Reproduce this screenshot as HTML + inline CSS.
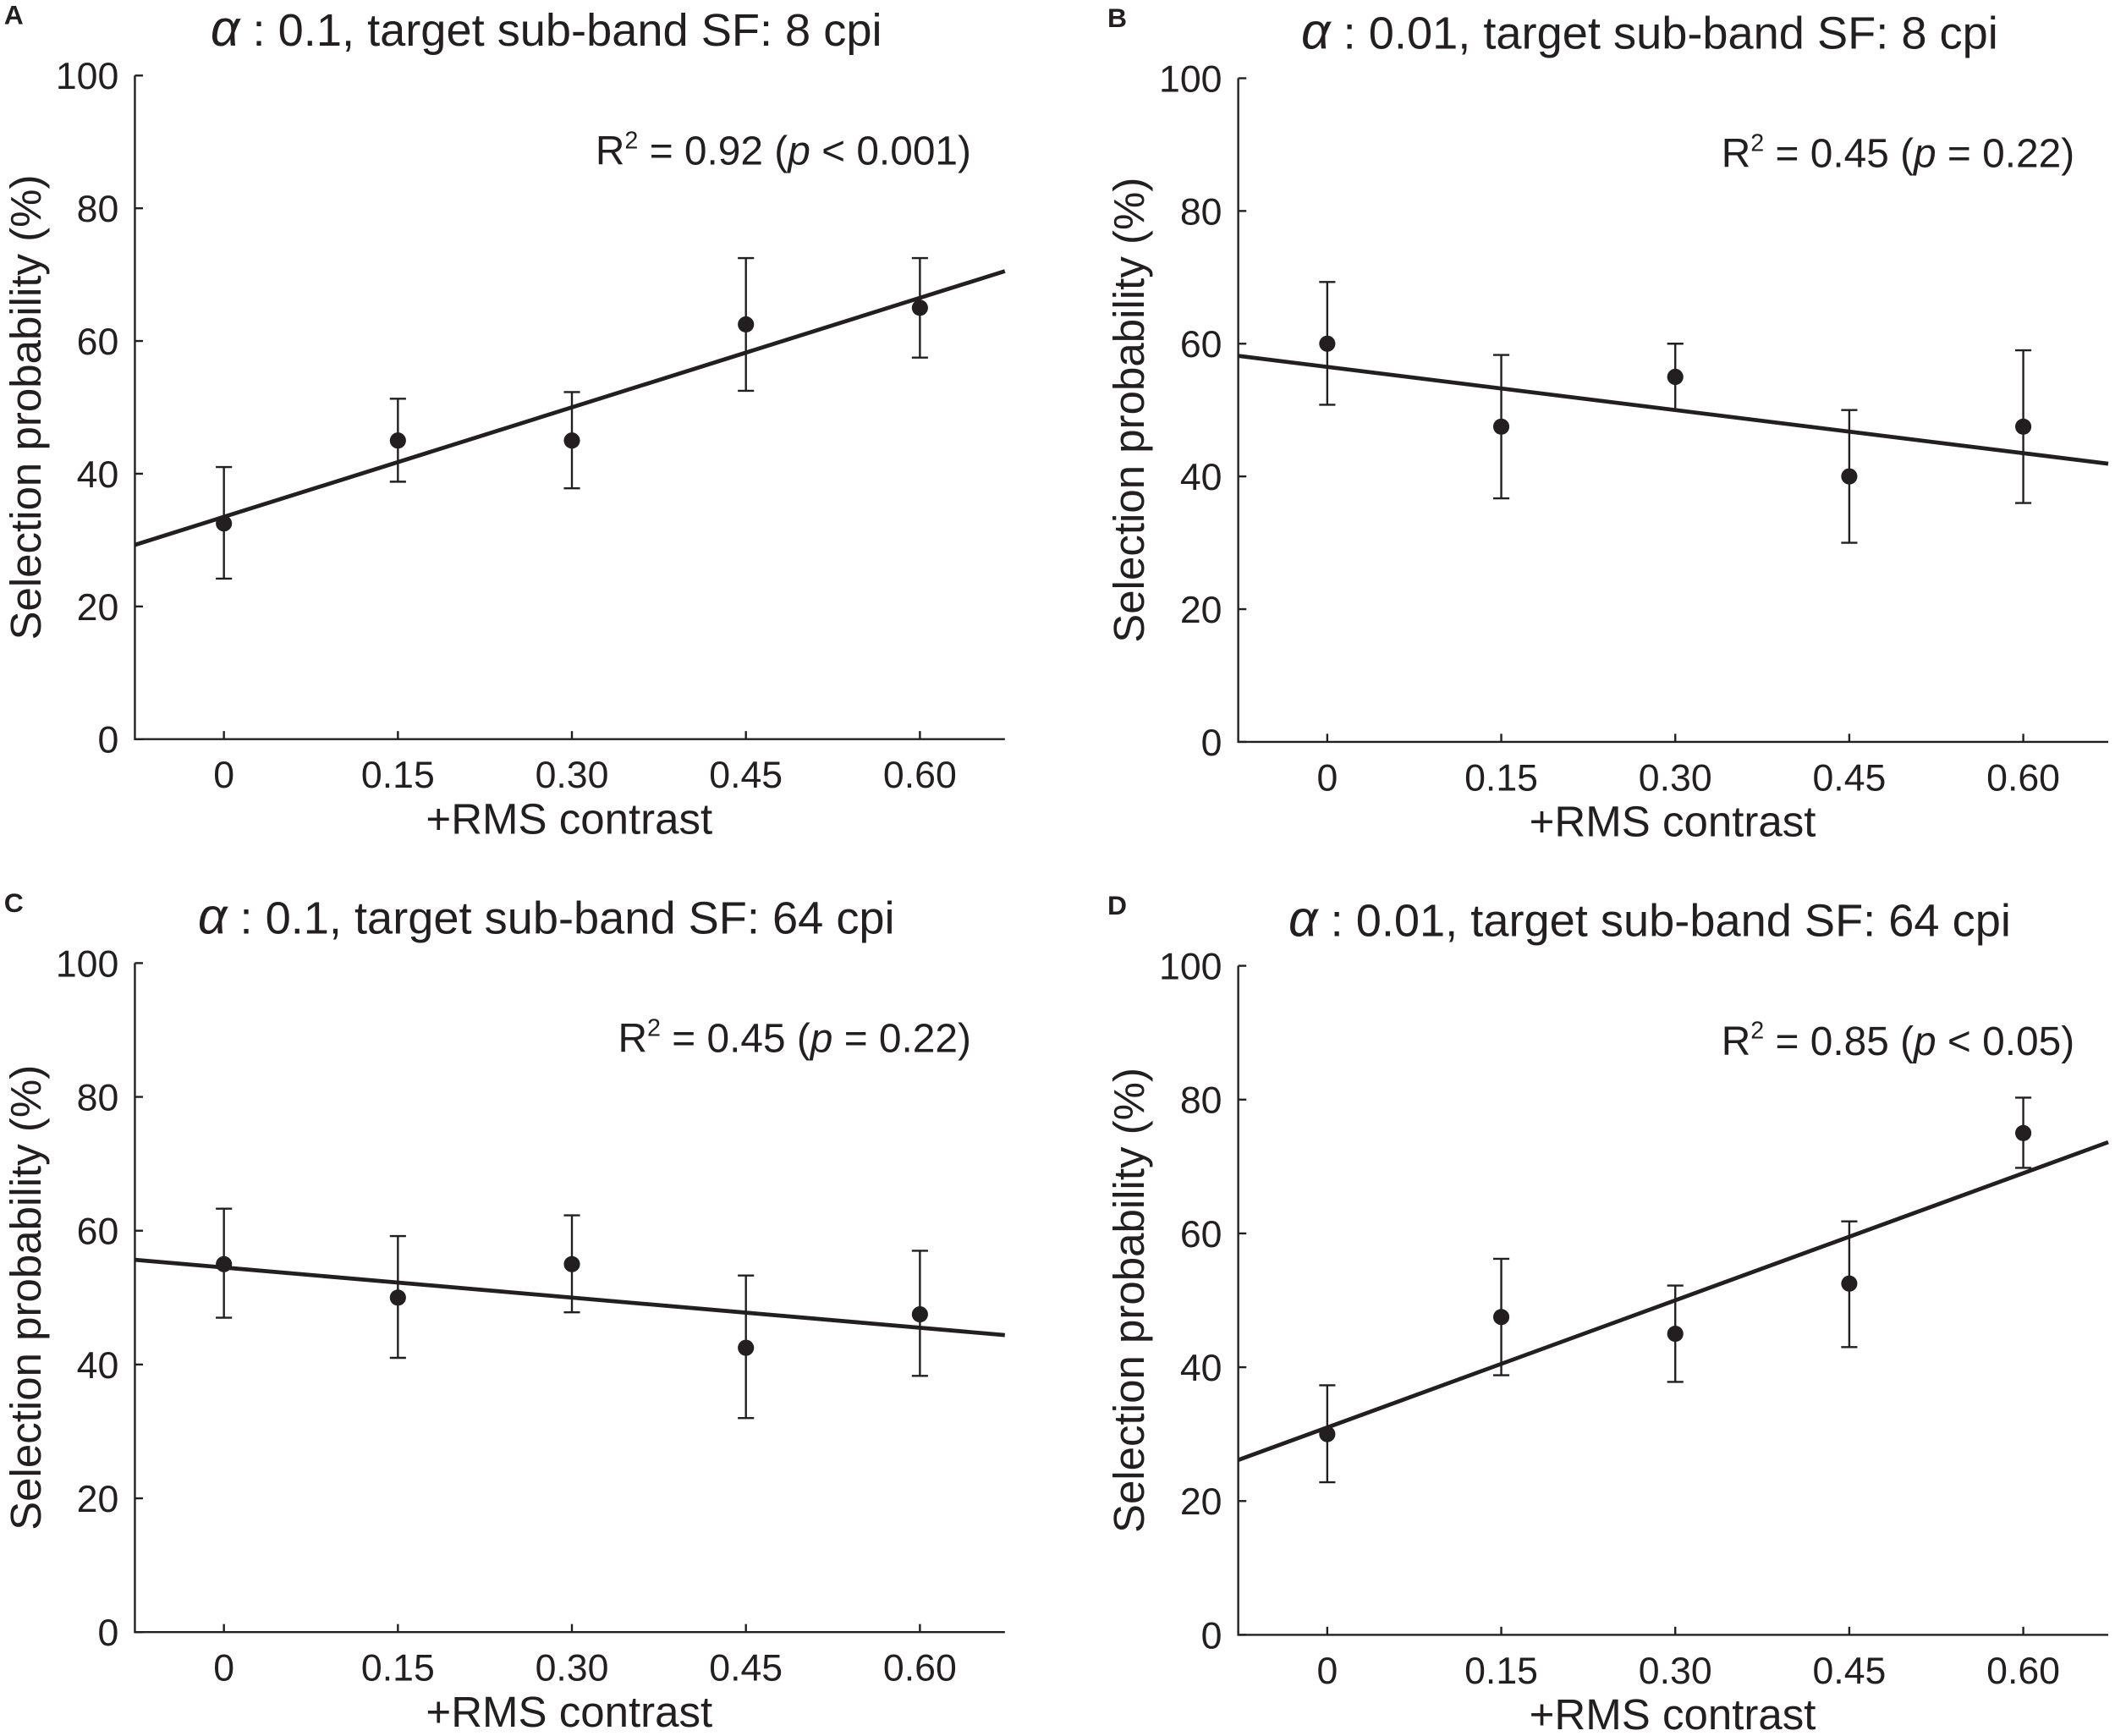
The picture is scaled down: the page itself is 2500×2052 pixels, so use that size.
<!DOCTYPE html>
<html><head><meta charset="utf-8">
<style>
html,body{margin:0;padding:0;background:#fff;}
svg{display:block;}
text{font-family:"Liberation Sans",sans-serif;fill:#231f20;}
</style></head>
<body>
<svg id="fig" width="2500" height="2052" viewBox="0 0 1568 1287" preserveAspectRatio="none" xmlns="http://www.w3.org/2000/svg"></svg>
<script>
const xCats = [0, 0.15, 0.30, 0.45, 0.60];
const xTickLabels = ["0", "0.15", "0.30", "0.45", "0.60"];
const yTicks = [0, 20, 40, 60, 80, 100];
const meansA = [32.5, 45, 45, 62.5, 65];
const upA = [41, 51.3, 52.3, 72.5, 72.5];
const loA = [24.2, 38.8, 37.8, 52.5, 57.5];
const meansB = [60, 47.5, 55, 40, 47.5];
const upB = [69.3, 58.3, 60, 50, 59];
const loB = [50.8, 36.7, 50, 30, 36];
const meansC = [55, 50, 55, 42.5, 47.5];
const upC = [63.3, 59.2, 62.3, 53.3, 57];
const loC = [47, 41, 47.8, 32, 38.3];
const meansD = [30, 47.5, 45, 52.5, 75];
const upD = [37.3, 56.2, 52.2, 61.8, 80.3];
const loD = [22.8, 38.8, 37.8, 43, 69.8];
const titles = [" : 0.1, target sub-band SF: 8 cpi"," : 0.01, target sub-band SF: 8 cpi"," : 0.1, target sub-band SF: 64 cpi"," : 0.01, target sub-band SF: 64 cpi"];
const r2Vals = ["0.92","0.45","0.45","0.85"];
const pRel = ["<","=","=","<"];
const pVals = ["0.001","0.22","0.22","0.05"];
const letters = ["A","B","C","D"];

const NS = "http://www.w3.org/2000/svg";
const svg = document.getElementById("fig");
function mk(tag, attrs, parent){const e=document.createElementNS(NS,tag);for(const k in attrs)e.setAttribute(k,attrs[k]);(parent||svg).appendChild(e);return e;}

const panels = [
 {L:100,B:548,T:56,R:745,m:meansA,u:upA,l:loA},
 {L:918,B:550,T:58,R:1563,m:meansB,u:upB,l:loB},
 {L:100,B:1210,T:714,R:745,m:meansC,u:upC,l:loC},
 {L:918,B:1212,T:716,R:1563,m:meansD,u:upD,l:loD}
];
panels.forEach((p,i)=>{
  const g = mk("g",{});
  
  
  const x0 = p.L+66, step = 129/0.15;
  const xs = v => x0 + v*step;
  const ys = v => p.B - v*(p.B-p.T)/100;
  const xmin = (p.L - x0)/step, xmax = (p.R - x0)/step;
  const ax = mk("path",{d:`M${p.L},${p.T} V${p.B} H${p.R}`,stroke:"#231f20","stroke-width":1.5,fill:"none"},g);
  
  
  yTicks.forEach(t=>{
    mk("line",{x1:p.L,x2:p.L+6,y1:ys(t),y2:ys(t),stroke:"#231f20","stroke-width":1.5},g);
    const tx = mk("text",{x:p.L-12,y:ys(t)+10,"text-anchor":"end","font-size":28},g);
    tx.textContent=t;
    
    
  });
  xCats.forEach((c,j)=>{
    mk("line",{x1:xs(c),x2:xs(c),y1:p.B,y2:p.B-6,stroke:"#231f20","stroke-width":1.5},g);
    const tx = mk("text",{x:xs(c),y:p.B+36,"text-anchor":"middle","font-size":28},g);
    tx.textContent=xTickLabels[j];
    
    
  });
  const n=xCats.length, mx=xCats.reduce((a,b)=>a+b)/n, my=p.m.reduce((a,b)=>a+b)/n;
  let sxy=0,sxx=0; xCats.forEach((x,j)=>{sxy+=(x-mx)*(p.m[j]-my);sxx+=(x-mx)*(x-mx);});
  const sl=sxy/sxx, ic=my-sl*mx;
  const fl = mk("line",{x1:xs(xmin),y1:ys(ic+sl*xmin),x2:xs(xmax),y2:ys(ic+sl*xmax),stroke:"#231f20","stroke-width":3},g);
  
  
  xCats.forEach((c,j)=>{
    const eb = mk("path",{d:`M${xs(c)},${ys(p.u[j])} V${ys(p.l[j])} M${xs(c)-6},${ys(p.u[j])} H${xs(c)+6} M${xs(c)-6},${ys(p.l[j])} H${xs(c)+6}`,stroke:"#231f20","stroke-width":1.5,fill:"none"},g);
    
    
    const pt = mk("circle",{cx:xs(c),cy:ys(p.m[j]),r:6,fill:"#231f20"},g);
    
    
  });
  const ttl = mk("text",{x:p.L+305,y:p.T-22,"text-anchor":"middle","font-size":34},g);
  ttl.innerHTML=`<tspan font-style="italic" font-size="38">\u03b1</tspan><tspan>${titles[i]}</tspan>`;
  
  
  const lt = mk("text",{x:p.L-100+3,y:p.T-38,"font-size":20,"font-weight":"bold"},g);
  lt.textContent=letters[i];
  
  
  const xl = mk("text",{x:p.L+322,y:p.B+70,"text-anchor":"middle","font-size":32},g);
  xl.textContent="+RMS contrast";
  
  
  const yl = mk("text",{x:0,y:0,"text-anchor":"middle","font-size":32,transform:`translate(${p.L-70},${(p.T+p.B)/2}) rotate(-90)`},g);
  yl.textContent="Selection probability (%)";
  
  
  const r2 = mk("text",{x:p.R-25,y:p.T+66,"text-anchor":"end","font-size":30},g);
  r2.innerHTML=`R<tspan dy="-12" font-size="18">2</tspan><tspan dy="12"> = ${r2Vals[i]} (</tspan><tspan font-style="italic">p</tspan><tspan> ${pRel[i]} ${pVals[i]})</tspan>`;
  
  
});
</script>
</body></html>
